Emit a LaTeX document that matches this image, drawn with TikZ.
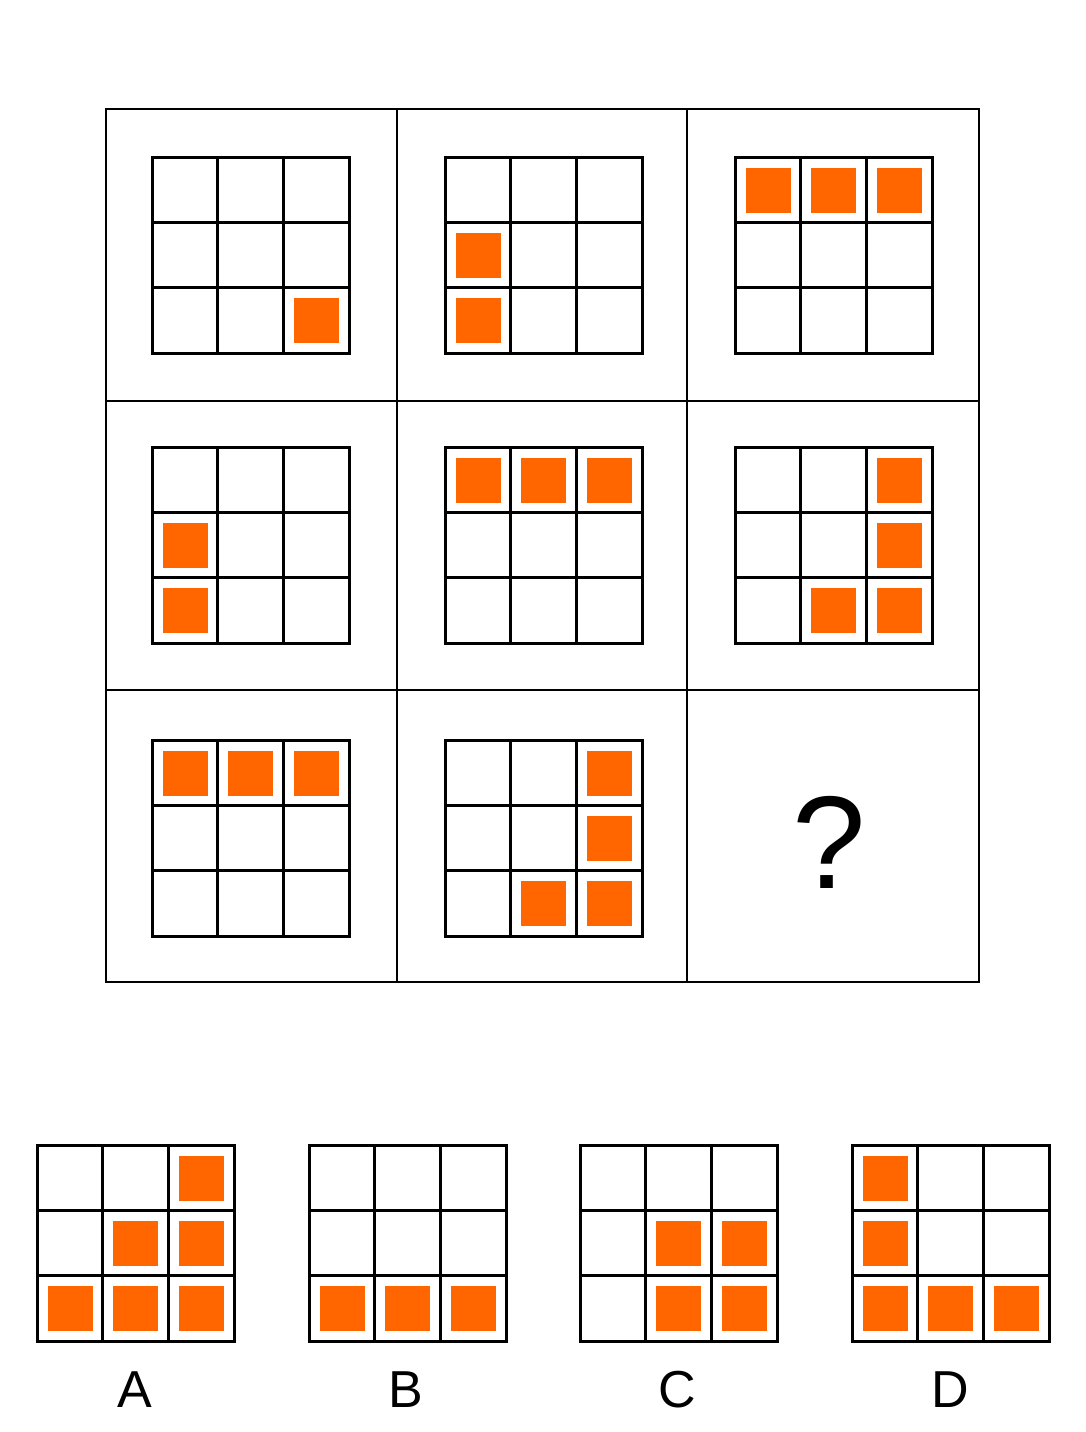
\documentclass[tikz,border=0pt]{standalone}
\usepackage{fontspec}
\setmainfont{Liberation Sans}
\usepackage{tikz}

\definecolor{tileorange}{HTML}{FF6600}

\tikzset{
  frameline/.style={black,line width=2pt},
  gridline/.style={black,line width=3pt},
  tile/.style={fill=tileorange},
  optlabel/.style={font=\fontsize{52}{60}\selectfont,inner sep=0pt},
}

% 3x3 grid: top-left x, top-left y, list of row/col with a tile
\newcommand{\puzzlegrid}[3]{%
  \foreach \r/\c in {#3}
    \fill[tile] (#1+\c*65.67-55.17,#2+\r*65.33-54.83) rectangle ++(45,45);
  \foreach \k in {1,2} {
    \draw[gridline] (#1+\k*65.67,#2) -- ++(0,196);
    \draw[gridline] (#1,#2+\k*65.33) -- ++(197,0);
  }
  \draw[gridline] (#1,#2) rectangle ++(197,196);
}

\begin{document}
\begin{tikzpicture}[x=1pt,y=-1pt]
\useasboundingbox (0,0) rectangle (1086,1432);
\fill[white] (0,0) rectangle (1086,1432);

    % outer frame of the matrix
    \draw[frameline] (106,109) rectangle (979,982);
    \draw[frameline] (397,109) -- (397,982);
    \draw[frameline] (687,109) -- (687,982);
    \draw[frameline] (106,401) -- (979,401);
    \draw[frameline] (106,690) -- (979,690);

    % row 1
    \puzzlegrid{152}{157}{3/3}
    \puzzlegrid{445}{157}{2/1,3/1}
    \puzzlegrid{735}{157}{1/1,1/2,1/3}

    % row 2
    \puzzlegrid{152}{447}{2/1,3/1}
    \puzzlegrid{445}{447}{1/1,1/2,1/3}
    \puzzlegrid{735}{447}{1/3,2/3,3/2,3/3}

    % row 3
    \puzzlegrid{152}{740}{1/1,1/2,1/3}
    \puzzlegrid{445}{740}{1/3,2/3,3/2,3/3}
    \node[font=\fontsize{132}{140}\selectfont,inner sep=0pt] (qmark) at (829,842) {?};

    % answer options
    \puzzlegrid{37}{1145}{1/3,2/2,2/3,3/1,3/2,3/3}
    \puzzlegrid{309}{1145}{3/1,3/2,3/3}
    \puzzlegrid{580}{1145}{2/2,2/3,3/2,3/3}
    \puzzlegrid{852}{1145}{1/1,2/1,3/1,3/2,3/3}

    \node[optlabel] (labelA) at (135,1390) {A};
    \node[optlabel] (labelB) at (406,1390) {B};
    \node[optlabel] (labelC) at (677,1390) {C};
    \node[optlabel] (labelD) at (950,1390) {D};
\end{tikzpicture}
\end{document}
